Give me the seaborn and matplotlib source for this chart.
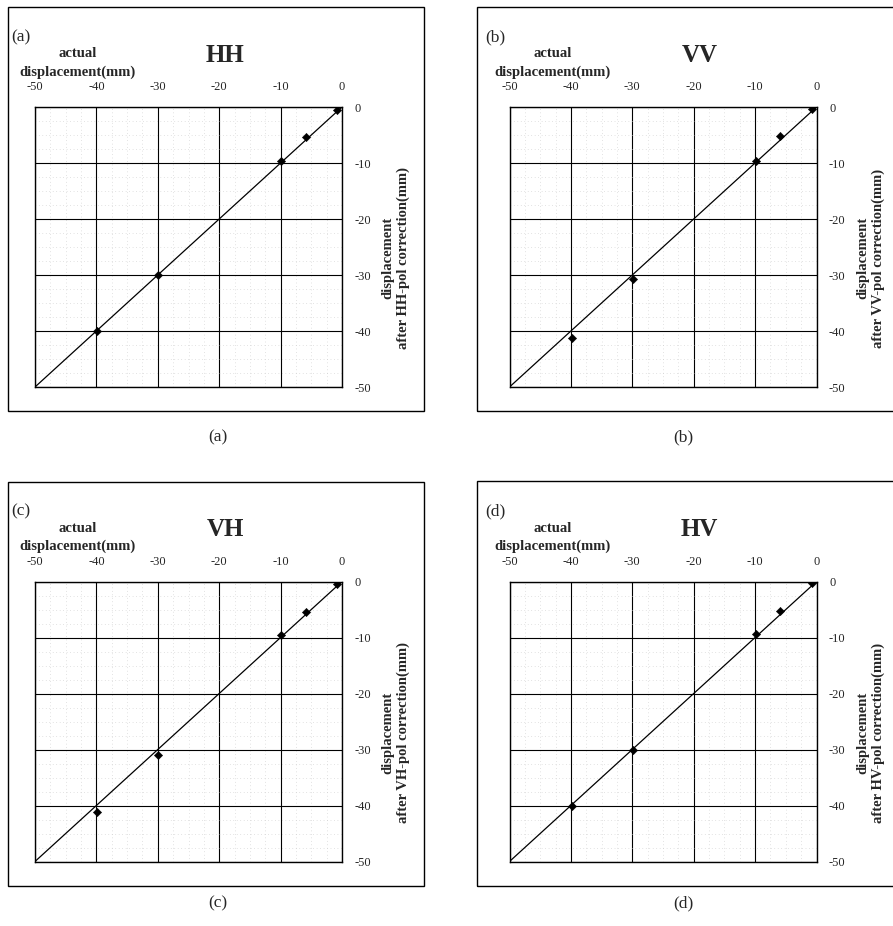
import numpy as np
import pandas as pd
import matplotlib
matplotlib.use("Agg")
import matplotlib.pyplot as plt
import seaborn as sns
from matplotlib.patches import Rectangle
from matplotlib.ticker import MultipleLocator

# actual displacement (mm) and displacement after correction (mm)
actual = [-0.8, -5.9, -9.9, -29.9, -39.9]
hh_corr = [-0.6, -5.4, -9.7, -30.0, -40.0]
vv_corr = [-0.4, -5.2, -9.7, -30.7, -41.3]
vh_corr = [-0.4, -5.5, -9.5, -31.0, -41.1]
hv_corr = [-0.3, -5.3, -9.4, -30.1, -40.1]
ideal = [-50, 0]  # 1:1 reference line
ticks = [-50, -40, -30, -20, -10, 0]

panels = [("(a)", "HH", hh_corr), ("(b)", "VV", vv_corr),
          ("(c)", "VH", vh_corr), ("(d)", "HV", hv_corr)]

sns.set_style("white")
plt.rcParams['font.family'] = ['Liberation Serif', 'DejaVu Serif']
plt.rcParams['axes.unicode_minus'] = False

W, H = 893, 926
fig = plt.figure(figsize=(W / 100, H / 100), dpi=100)

# pixel layout: (axes left, axes top, box left, box top, box right, box bottom, caption x, caption y)
layout = [
    (35, 107, 8, 7, 424, 411, 218, 437),
    (509.5, 107, 477, 7, 900, 411, 683, 437),
    (35, 581.5, 8, 482, 424, 886, 218, 903),
    (509.5, 581.5, 477, 481, 900, 886, 683, 903),
]
ax_w, ax_h = 307, 280

for (tag, pol, corr), (axl, axt, bl, bt, br, bb, cx, cy) in zip(panels, layout):
    # panel frame
    fig.add_artist(Rectangle((bl / W, 1 - bb / H), (br - bl) / W, (bb - bt) / H,
                             transform=fig.transFigure, fill=False,
                             edgecolor="black", linewidth=1.0))
    fig.text(cx / W, 1 - cy / H, tag, ha="center", va="center", fontsize=12.5)

    ax = fig.add_axes([axl / W, 1 - (axt + ax_h) / H, ax_w / W, ax_h / H])
    df = pd.DataFrame({"actual": actual, "corrected": corr})
    sns.lineplot(x=ideal, y=ideal, ax=ax, color="black", linewidth=0.9)
    sns.scatterplot(data=df, x="actual", y="corrected", ax=ax, marker="D",
                    s=18, color="black", edgecolor="black", zorder=5)

    ax.set_xlim(-50, 0)
    ax.set_ylim(-50, 0)
    ax.set_xticks(ticks)
    ax.set_yticks(ticks)
    ax.xaxis.set_minor_locator(MultipleLocator(2.5))
    ax.yaxis.set_minor_locator(MultipleLocator(2.5))
    ax.grid(which="major", color="black", linewidth=0.8)
    ax.grid(which="minor", color="#c8c8c8", linewidth=0.5, linestyle=(0, (1, 4)))
    ax.set_axisbelow(True)
    ax.xaxis.tick_top()
    ax.yaxis.tick_right()
    ax.tick_params(axis="both", which="both", length=0, labelsize=9)
    ax.tick_params(axis="x", pad=10)
    ax.tick_params(axis="y", pad=9)
    for sp in ax.spines.values():
        sp.set_color("black")
        sp.set_linewidth(1.0)
    ax.set_xlabel("")
    ax.set_ylabel("")

    ax.text(190 / ax_w, 1 + 52 / ax_h, pol, transform=ax.transAxes,
            ha="center", va="center", fontsize=18, fontweight="bold")
    ax.text(-14 / ax_w, 1 + 70 / ax_h, tag, transform=ax.transAxes,
            ha="center", va="center", fontsize=12.5)
    ax.text(43 / ax_w, 1 + 44 / ax_h, "actual\ndisplacement(mm)",
            transform=ax.transAxes, ha="center", va="center",
            fontsize=10.5, fontweight="bold", linespacing=1.45)
    ax.text(1 + 54 / ax_w, 0.46, "displacement\nafter %s-pol correction(mm)" % pol,
            transform=ax.transAxes, rotation=90, ha="center", va="center",
            fontsize=10.5, fontweight="bold", linespacing=1.2,
            multialignment="center")

fig.savefig("out.png", dpi=100)
